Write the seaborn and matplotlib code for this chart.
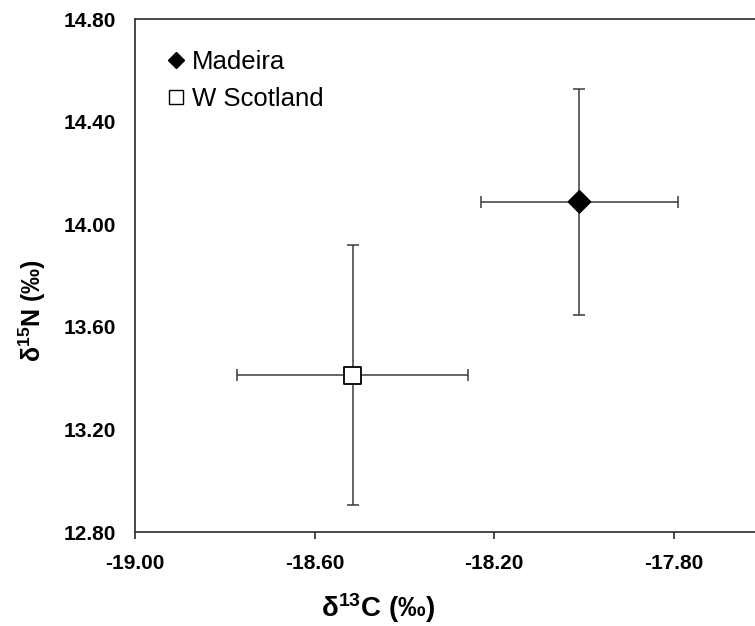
import matplotlib
matplotlib.use("Agg")
import matplotlib.pyplot as plt
from matplotlib.lines import Line2D
import seaborn as sns
import pandas as pd

# ---- data ----
sites = ["Madeira", "W Scotland"]
d13c_mean = [-18.01, -18.515]
d13c_err = [0.219, 0.257]
d15n_mean = [14.088, 13.412]
d15n_err = [0.442, 0.507]
x_ticks = [-19.00, -18.60, -18.20, -17.80]
x_tick_labels = ["-19.00", "-18.60", "-18.20", "-17.80"]
y_ticks = [12.80, 13.20, 13.60, 14.00, 14.40, 14.80]
y_tick_labels = ["12.80", "13.20", "13.60", "14.00", "14.40", "14.80"]

df = pd.DataFrame({"site": sites, "d13C": d13c_mean, "d15N": d15n_mean,
                   "xerr": d13c_err, "yerr": d15n_err})

sns.set_theme(style="white")
plt.rcParams["font.family"] = ["Liberation Sans", "DejaVu Sans"]
plt.rcParams["mathtext.fontset"] = "custom"
plt.rcParams["mathtext.bf"] = "Liberation Sans:bold"
plt.rcParams["mathtext.rm"] = "Liberation Sans:bold"
plt.rcParams["mathtext.default"] = "bf"
plt.rcParams["text.color"] = "black"

fig = plt.figure(figsize=(7.55, 6.26), dpi=100)
ax = fig.add_axes([135 / 755, 94 / 626, 620 / 755, 512.7 / 626])

ecol = "#3a3a3a"
ax.errorbar(df["d13C"], df["d15N"], xerr=df["xerr"], yerr=df["yerr"],
            fmt="none", ecolor=ecol, elinewidth=1.1, capsize=4.5,
            capthick=1.1, zorder=2)

sns.scatterplot(data=df, x="d13C", y="d15N", style="site", size="site",
                markers={"Madeira": "D", "W Scotland": "s"},
                sizes={"Madeira": 125, "W Scotland": 150},
                color="black", edgecolor="black", linewidth=1.3,
                legend=False, ax=ax, zorder=3)
coll = ax.collections[-1]
coll.set_facecolors(["black", "white"])
coll.set_edgecolors(["black", "black"])

ax.set_xlim(-19.0, -17.619)
ax.set_ylim(12.80, 14.80)
ax.set_xticks(x_ticks)
ax.set_xticklabels(x_tick_labels)
ax.set_yticks(y_ticks)
ax.set_yticklabels(y_tick_labels)

for lab in ax.get_xticklabels() + ax.get_yticklabels():
    lab.set_fontweight("bold")
    lab.set_fontsize(15)
    lab.set_color("black")

ax.tick_params(axis="x", direction="out", length=5, width=1.3,
               color=ecol, pad=11, bottom=True)
ax.tick_params(axis="y", length=0, pad=14, left=True)

for side in ["left", "top", "bottom"]:
    ax.spines[side].set_color(ecol)
    ax.spines[side].set_linewidth(1.3)
ax.spines["right"].set_visible(False)

ax.set_xlabel(r"δ$^{13}$C (‰)", fontsize=20, fontweight="bold", color="black")
ax.set_ylabel(r"δ$^{15}$N (‰)", fontsize=18, fontweight="bold", color="black")
ax.xaxis.set_label_coords(0.392, -0.116)
ax.yaxis.set_label_coords(-0.14, 0.433)

handles = [
    Line2D([], [], marker="D", linestyle="none", markersize=8,
           markerfacecolor="black", markeredgecolor="black"),
    Line2D([], [], marker="s", linestyle="none", markersize=10.5,
           markerfacecolor="white", markeredgecolor="black",
           markeredgewidth=1.0),
]
leg = fig.legend(handles, sites, loc="upper left",
                 bbox_to_anchor=(163 / 755, 1 - 50 / 626),
                 frameon=False, fontsize=18.5, handlelength=1.0,
                 handletextpad=0.13, labelspacing=0.52, borderpad=0,
                 borderaxespad=0)
for t in leg.get_texts():
    t.set_color("black")

fig.savefig("out.png", dpi=100)
